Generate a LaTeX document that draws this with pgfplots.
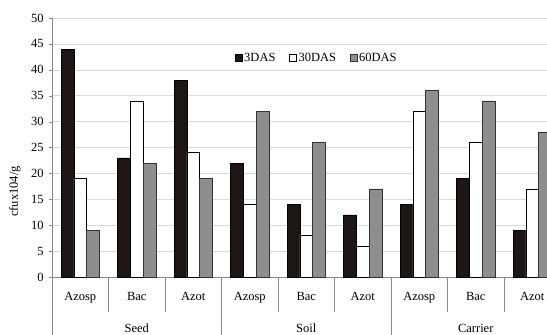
\documentclass[border=0pt]{standalone}
\usepackage{pgfplots}
\pgfplotsset{compat=1.18}
\usepackage{fontspec}
\setmainfont{Liberation Serif}
\definecolor{barblack}{HTML}{1E1616}
\definecolor{bargray}{HTML}{8E8E8E}
\definecolor{gridgray}{HTML}{DADADA}
\definecolor{axgray}{HTML}{8A8A8A}
\begin{document}
\fontsize{12.5}{14}\selectfont
\begin{tikzpicture}
\begin{axis}[
  at={(0,0)}, anchor=south west,
  scale only axis, width=508.5pt, height=259pt,
  xmin=-0.5, xmax=8.5, ymin=0, ymax=50,
  ytick={0,5,...,50},
  xtick={0,...,8},
  xticklabels={Azosp,Bac,Azot,Azosp,Bac,Azot,Azosp,Bac,Azot},
  x tick style={draw=none},
  xticklabel style={yshift=-8pt},
  yticklabel style={xshift=-1pt},
  ybar=0pt, bar width=0.225,
  ymajorgrids, grid style={gridgray, line width=0.6pt},
  axis x line*=bottom, axis y line*=left,
  axis line style={axgray, line width=0.7pt},
  y tick style={axgray}, tick align=outside, major tick length=3pt,
  /pgf/number format/assume math mode=true,
  ylabel={cfux104/g},
  ylabel style={at={(axis description cs:-0.073,0.33)}, anchor=center},
  legend style={at={(axis description cs:0.521,0.846)}, anchor=center, draw=none, fill=none, legend columns=3,
    /tikz/every even column/.append style={column sep=12pt}},
  legend image code/.code={\draw[#1] (0pt,-3pt) rectangle (6.5pt,3.5pt);},
  clip=false,
]
\addplot[draw=black, fill=barblack, line width=0.6pt] coordinates {(0,44) (1,23) (2,38) (3,22) (4,14) (5,12) (6,14) (7,19) (8,9)};
\addplot[draw=black, fill=white, line width=0.6pt] coordinates {(0,19) (1,34) (2,24) (3,14) (4,8) (5,6) (6,32) (7,26) (8,17)};
\addplot[draw=black!80, fill=bargray, line width=0.6pt] coordinates {(0,9) (1,22) (2,19) (3,32) (4,26) (5,17) (6,36) (7,34) (8,28)};
\legend{3DAS,30DAS,60DAS}
\pgfplotsinvokeforeach{0.5,1.5,3.5,4.5,6.5,7.5,8.5}{\draw[axgray, line width=0.7pt] (axis cs:#1,0) -- ++(0pt,-35pt);}
\pgfplotsinvokeforeach{-0.5,2.5,5.5,8.5}{\draw[axgray, line width=0.7pt] (axis cs:#1,0) -- ++(0pt,-58pt);}
\node at (axis cs:1,0) [yshift=-51pt] {Seed};
\node at (axis cs:4,0) [yshift=-51pt] {Soil};
\node at (axis cs:7,0) [yshift=-51pt] {Carrier};
\end{axis}
\pgfresetboundingbox
\useasboundingbox (-52pt,-58pt) rectangle (495pt,277pt);
\end{tikzpicture}
\end{document}
